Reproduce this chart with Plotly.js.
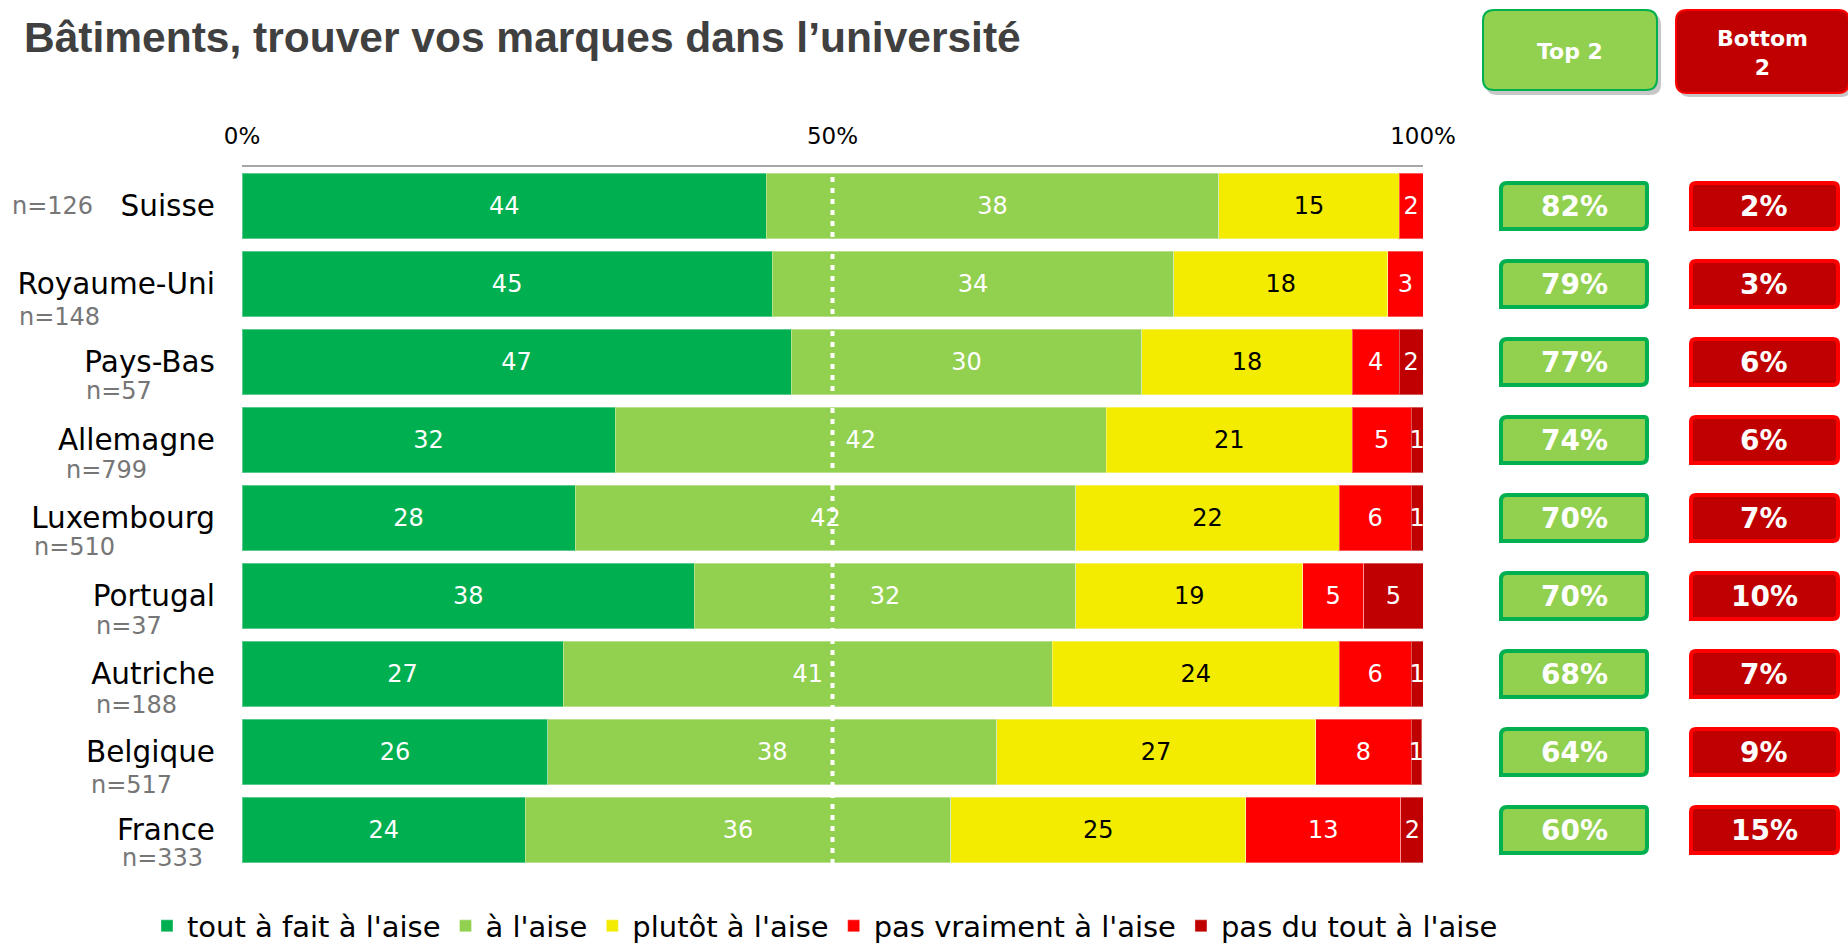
<!DOCTYPE html>
<html>
<head>
<meta charset="utf-8">
<script src="https://cdn.plot.ly/plotly-3.0.1.min.js"></script>
<style>
html,body{margin:0;padding:0;background:#fff;}
#chart{width:1848px;height:946px;}
</style>
</head>
<body>
<div id="chart"></div>
<script>
// ---- data ----
const categories = ['Suisse','Royaume-Uni','Pays-Bas','Allemagne','Luxembourg','Portugal','Autriche','Belgique','France'];
const sampleSizes = ['n=126','n=148','n=57','n=799','n=510','n=37','n=188','n=517','n=333'];
const seriesNames = ["tout à fait à l'aise","à l'aise","plutôt à l'aise","pas vraiment à l'aise","pas du tout à l'aise"];
const toutAFait   = [44.4,44.9,46.5,31.6,28.2,38.3,27.2,25.9,24.0];
const aLAise      = [38.3,34.0,29.7,41.6,42.4,32.3,41.4,38.0,36.0];
const plutot      = [15.3,18.1,17.8,20.8,22.3,19.2,24.3,27.0,25.0];
const pasVraiment = [2.0,3.0,4.0,5.0,6.1,5.2,6.1,8.1,13.1];
const pasDuTout   = [0,0,2.0,1.0,1.0,5.0,1.0,0.9,2.0];
const top2    = [82,79,77,74,70,70,68,64,60];
const bottom2 = [2,3,6,6,7,10,7,9,15];
const xTickVals = [0,50,100];
const xTickText = ['0%','50%','100%'];

// ---- styles / layout ----
const W = 1848, H = 946;
const M = {l:242, r:425, t:167, b:77, autoexpand:false};
const PW = W - M.l - M.r, PH = H - M.t - M.b;
const colors = ['#00b050','#92d050','#f3ec00','#ff0000','#c00000'];
const textColors = ['#ffffff','#ffffff','#000000','#ffffff','#ffffff'];
const FONT = '"DejaVu Sans", Verdana, sans-serif';
const series = [toutAFait, aLAise, plutot, pasVraiment, pasDuTout];

const traces = series.map((vals, k) => ({
  type: 'bar',
  orientation: 'h',
  name: seriesNames[k],
  y: categories,
  x: vals,
  text: vals.map(v => v > 0 ? String(Math.round(v)) : ''),
  textposition: 'inside',
  insidetextanchor: 'middle',
  constraintext: 'none',
  textfont: {family: FONT, size: 24, color: textColors[k]},
  marker: {color: colors[k], line: {color: 'rgba(255,255,255,0.35)', width: 1}},
  hoverinfo: 'x+name'
}));

// pixel -> paper helpers
const px2x = p => (p - M.l) / PW;
const py2y = p => 1 - (p - M.t) / PH;

// rounded rectangle; r = [topLeft, topRight, bottomRight, bottomLeft] radii in px
function roundRect(x0, y0, x1, y1, r) {
  const rr = Array.isArray(r) ? r : [r, r, r, r];
  const X = px2x, Y = py2y;
  const [a, b, c, d] = rr;
  return 'M' + X(x0 + a) + ',' + Y(y0) +
    ' L' + X(x1 - b) + ',' + Y(y0) +
    ' Q' + X(x1) + ',' + Y(y0) + ' ' + X(x1) + ',' + Y(y0 + b) +
    ' L' + X(x1) + ',' + Y(y1 - c) +
    ' Q' + X(x1) + ',' + Y(y1) + ' ' + X(x1 - c) + ',' + Y(y1) +
    ' L' + X(x0 + d) + ',' + Y(y1) +
    ' Q' + X(x0) + ',' + Y(y1) + ' ' + X(x0) + ',' + Y(y1 - d) +
    ' L' + X(x0) + ',' + Y(y0 + a) +
    ' Q' + X(x0) + ',' + Y(y0) + ' ' + X(x0 + a) + ',' + Y(y0) + ' Z';
}

const shapes = [];
// header boxes with shadow
shapes.push({type:'path', xref:'paper', yref:'paper', path: roundRect(1486,14,1661,95,11), fillcolor:'rgba(0,0,0,0.22)', line:{width:0}});
shapes.push({type:'path', xref:'paper', yref:'paper', path: roundRect(1483,10,1657,90,11), fillcolor:'#92d050', line:{color:'#00b050', width:2}});
shapes.push({type:'path', xref:'paper', yref:'paper', path: roundRect(1679,14,1852,97,11), fillcolor:'rgba(0,0,0,0.22)', line:{width:0}});
shapes.push({type:'path', xref:'paper', yref:'paper', path: roundRect(1676,10,1849,93,11), fillcolor:'#c00000', line:{color:'#ff0000', width:2}});

// per-row summary boxes (row centre derived from category band geometry)
const bandPx = PH / categories.length;
const boxHalfPx = 23;
categories.forEach((c, i) => {
  const cy = M.t + (i + 0.5) * bandPx;
  shapes.push({type:'path', xref:'paper', yref:'paper', path: roundRect(1501, cy - boxHalfPx, 1647, cy + boxHalfPx, [6,3,6,0]),
    fillcolor:'#92d050', line:{color:'#00b050', width:4}});
  shapes.push({type:'path', xref:'paper', yref:'paper', path: roundRect(1691, cy - boxHalfPx, 1838, cy + boxHalfPx, [5,5,5,0]),
    fillcolor:'#c00000', line:{color:'#ff0000', width:4}});
});

// dotted 50% line
shapes.push({type:'line', xref:'x', yref:'paper', x0:50, x1:50, y0: py2y(864), y1: 1.0,
  line:{color:'#ffffff', width:4, dash:'5px,6px'}, layer:'above'});

const annotations = [];
annotations.push({xref:'paper', yref:'paper', x: px2x(1570), y: py2y(51), text:'<b>Top 2</b>', showarrow:false,
  font:{family:FONT, size:22, color:'#ffffff'}, xanchor:'center', yanchor:'middle'});
annotations.push({xref:'paper', yref:'paper', x: px2x(1762), y: py2y(53), text:'<b>Bottom<br>2</b>', showarrow:false,
  font:{family:FONT, size:22, color:'#ffffff'}, xanchor:'center', yanchor:'middle'});

const nLabelX = [10,17,84,64,32,94,94,89,120];
const nLabelShift = [0,-33,-29,-30,-29,-30,-31,-33,-28];
categories.forEach((c, i) => {
  annotations.push({xref:'paper', yref:'y', x: px2x(1574), y: c, text:'<b>' + top2[i] + '%</b>', showarrow:false,
    font:{family:FONT, size:28, color:'#ffffff'}, xanchor:'center', yanchor:'middle'});
  annotations.push({xref:'paper', yref:'y', x: px2x(1764), y: c, text:'<b>' + bottom2[i] + '%</b>', showarrow:false,
    font:{family:FONT, size:28, color:'#ffffff'}, xanchor:'center', yanchor:'middle'});
  annotations.push({xref:'paper', yref:'y', x: px2x(nLabelX[i]), y: c, yshift: nLabelShift[i], text: sampleSizes[i], showarrow:false,
    font:{family:FONT, size:24, color:'#767676'}, xanchor:'left', yanchor:'middle'});
});

const layout = {
  width: W, height: H,
  margin: M,
  paper_bgcolor:'#ffffff', plot_bgcolor:'#ffffff',
  barmode:'stack',
  bargap: 0.155,
  showlegend: true,
  title: {
    text:'<b>Bâtiments, trouver vos marques dans l’université</b>',
    xref:'container', yref:'container', x: 24/W, xanchor:'left', y: 1 - 37/H, yanchor:'middle',
    font:{family:'"Liberation Sans", Arial, sans-serif', size:42.5, color:'#404040'}
  },
  xaxis: {
    side:'top', range:[0,100], tickvals: xTickVals, ticktext: xTickText,
    showgrid:false, zeroline:false, showline:true, linecolor:'#a6a6a6', linewidth:2,
    ticks:'', ticklabelstandoff: 12,
    tickfont:{family:FONT, size:23, color:'#000000'}, fixedrange:true
  },
  yaxis: {
    type:'category', categoryorder:'array', categoryarray: categories, autorange:'reversed',
    showgrid:false, zeroline:false, showline:false, ticks:'',
    ticklabelstandoff: 26,
    tickfont:{family:FONT, size:29.5, color:'#000000'}, fixedrange:true
  },
  legend: {
    orientation:'h', x: px2x(147), xanchor:'left', y: py2y(926), yanchor:'middle',
    font:{family:FONT, size:29, color:'#000000'}, traceorder:'normal',
    bgcolor:'rgba(0,0,0,0)', tracegroupgap: 0
  },
  shapes: shapes,
  annotations: annotations
};

Plotly.newPlot('chart', traces, layout, {displayModeBar:false, staticPlot:false});
</script>
</body>
</html>
